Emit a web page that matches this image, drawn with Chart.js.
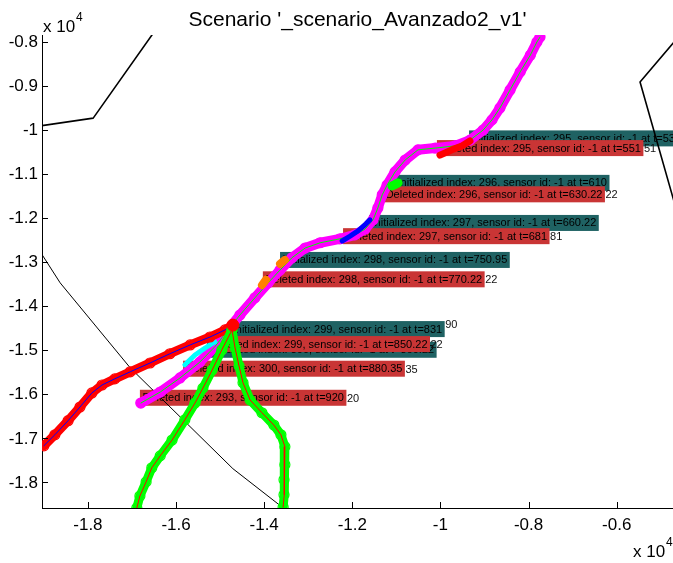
<!DOCTYPE html>
<html><head><meta charset="utf-8">
<script src="https://cdn.jsdelivr.net/npm/chart.js@4.4.0/dist/chart.umd.min.js"></script>
<style>html,body{margin:0;padding:0;background:#fff;}#wrap{width:673px;height:563px;}</style>
</head><body><div id="wrap"><canvas id="c" width="673" height="563"></canvas></div>
<script>
// ---- axis ranges / tick labels ----
const xRange = [-19042, -4722];
const yRange = [-18593, -7852];
const xTickValues = [-18000, -16000, -14000, -12000, -10000, -8000, -6000];
const yTickValues = [-18000, -17000, -16000, -15000, -14000, -13000, -12000, -11000, -10000, -9000, -8000];
const titleText = "Scenario '_scenario_Avanzado2_v1'";

// ---- magenta track (green centre line) ----
const magX = [-16800,-16360,-15910,-15460,-15120,-14820,-14550,-14210,-13910,-13640,-13370,-13070,-12730,-12280,-11940,-11710,-11530,-11420,-11320,-11210,-11030,-10800,-10510,-10120,-9670,-9330,-9030,-8830,-8650,-8420,-8190,-7960,-7810,-7740];
const magY = [-16210,-15960,-15640,-15280,-14930,-14550,-14210,-13820,-13480,-13190,-12910,-12690,-12570,-12480,-12390,-12260,-12050,-11780,-11480,-11260,-10960,-10690,-10460,-10420,-10370,-10240,-10010,-9780,-9510,-9100,-8690,-8310,-8010,-7900];
// ---- red track (blue centre line) ----
const redX = [-19000,-18750,-18450,-18180,-17910,-17680,-17390,-17040,-16590,-16140,-15680,-15230,-14890,-14710];
const redY = [-17180,-16930,-16610,-16300,-15980,-15800,-15660,-15500,-15300,-15090,-14890,-14710,-14550,-14440];
// ---- green tracks (red centre lines) ----
const gLX = [-14730,-14960,-15180,-15390,-15570,-15800,-16090,-16360,-16550,-16680,-16820,-16890];
const gLY = [-14550,-15000,-15460,-15870,-16210,-16590,-17050,-17410,-17680,-18000,-18320,-18590];
const gRX = [-14730,-14660,-14570,-14480,-14320,-14050,-13780,-13620,-13530,-13530,-13550,-13550,-13570];
const gRY = [-14550,-14960,-15370,-15750,-16140,-16430,-16710,-16930,-17200,-17610,-17950,-18290,-18570];
// ---- black map lines ----
const bl1X = [-19310,-17880,-16390]; const bl1Y = [-9950,-9740,-7630];
const bl2X = [-4330,-5470,-4560];    const bl2Y = [-7580,-8920,-12120];
const bl3X = [-19310,-18630,-17040,-14710,-13570,-13190]; const bl3Y = [-12420,-13480,-15410,-17700,-18590,-18880];
// ---- short track fragments ----
const blueX = [-12230,-12050,-11870,-11690,-11600]; const blueY = [-12530,-12420,-12300,-12140,-12050];
const gBlobX = [-11100,-10960]; const gBlobY = [-11280,-11210];
const redBitX = [-10010,-9740,-9510,-9330]; const redBitY = [-10580,-10460,-10370,-10260];
const or1X = [-13640,-13530]; const or1Y = [-13050,-12960];
const or2X = [-14050,-13960]; const or2Y = [-13530,-13410];
const cyanX = [-15800,-15570,-15340,-15120]; const cyanY = [-15340,-15120,-14960,-14820];
const dotX = [-14710]; const dotY = [-14440];
// ---- event labels ----
const labelText = [
 'Initialized index: 295, sensor id: -1 at t=531',
 'Initialized index: 296, sensor id: -1 at t=610',
 'Initialized index: 297, sensor id: -1 at t=660.22',
 'Initialized index: 298, sensor id: -1 at t=750.95',
 'Initialized index: 299, sensor id: -1 at t=831',
 'Initialized index: 300, sensor id: -1 at t=860.22',
 'Deleted index: 295, sensor id: -1 at t=551',
 'Deleted index: 296, sensor id: -1 at t=630.22',
 'Deleted index: 297, sensor id: -1 at t=681',
 'Deleted index: 298, sensor id: -1 at t=770.22',
 'Deleted index: 299, sensor id: -1 at t=850.22',
 'Deleted index: 300, sensor id: -1 at t=880.35',
 'Deleted index: 293, sensor id: -1 at t=920'
];
const labelKind = ['init','init','init','init','init','init','del','del','del','del','del','del','del'];
const labelTail = ['','','','','90','','51','22','81','22','22','35','20'];
const labelX = [-9350,-11030,-11620,-13640,-14770,-15300,-10080,-11300,-12210,-14030,-15270,-15840,-16820];
const labelY = [-10200,-11210,-12120,-12960,-14530,-15000,-10420,-11470,-12420,-13400,-14870,-15430,-16090];

const pts = (xs, ys) => xs.map((v, i) => ({x: v, y: ys[i]}));
const FONT = '"Liberation Sans", Arial, Helvetica, sans-serif';

function line(xs, ys, color, width, extra) {
  return Object.assign({data: pts(xs, ys), showLine: true, borderColor: color, backgroundColor: color,
    borderWidth: width, pointRadius: 0, tension: 0, borderCapStyle: 'round', borderJoinStyle: 'round'}, extra || {});
}
function band(xs, ys, color, w) {
  return line(xs, ys, color, w, {pointRadius: 5, pointBorderWidth: 1.2, pointBorderColor: color,
    pointBackgroundColor: 'rgba(0,0,0,0)'});
}

const datasets = [
  line(dotX, dotY, '#ff0000', 1, {pointRadius: 6, pointBackgroundColor: '#ff0000', pointBorderColor: '#ff0000'}),
  line(gLX, gLY, '#ff0000', 1),
  line(gRX, gRY, '#ff0000', 1),
  band(gLX, gLY, '#00ff00', 9),
  band(gRX, gRY, '#00ff00', 9),
  line(redX, redY, '#0000ff', 1),
  band(redX, redY, '#ff0000', 9),
  line(gBlobX, gBlobY, '#00ff00', 9),
  line(blueX, blueY, '#0000ff', 5),
  line(redBitX, redBitY, '#ff0000', 7),
  line(or1X, or1Y, '#ff8000', 8),
  line(or2X, or2Y, '#ff8000', 8),
  line(cyanX, cyanY, '#00ffff', 5),
  line(magX, magY, '#00ff00', 1),
  band(magX, magY, '#ff00ff', 10),
  line(bl1X, bl1Y, '#000000', 1.6),
  line(bl2X, bl2Y, '#000000', 1.6),
  line(bl3X, bl3Y, '#000000', 1)
];

const fmt = v => String(parseFloat((v / 1e4).toFixed(2)));

const deco = {
  id: 'deco',
  beforeDatasetsDraw(chart) {
    const {ctx, scales: {x, y}} = chart;
    ctx.save();
    ctx.font = '11px ' + FONT;
    ctx.textBaseline = 'middle';
    for (let i = 0; i < labelText.length; i++) {
      const px = x.getPixelForValue(labelX[i]), py = y.getPixelForValue(labelY[i]);
      const w = ctx.measureText(labelText[i]).width + 5, h = 16;
      ctx.fillStyle = labelKind[i] === 'init' ? '#1f6263' : '#c93535';
      ctx.fillRect(px, py - h / 2, w, h);
      ctx.fillStyle = '#000';
      ctx.fillText(labelText[i], px + 2.5, py + 0.5);
      if (labelTail[i]) {
        ctx.fillStyle = '#111';
        ctx.fillText(labelTail[i], px + w + 0.5, py + (labelKind[i] === 'init' ? -4 : 1));
      }
    }
    ctx.restore();
  },
  afterDraw(chart) {
    const {ctx, chartArea: ca, scales: {x, y}} = chart;
    ctx.save();
    ctx.strokeStyle = '#000'; ctx.lineWidth = 1;
    ctx.beginPath();
    x.ticks.forEach(t => { const p = Math.round(x.getPixelForValue(t.value)) + 0.5; ctx.moveTo(p, ca.bottom); ctx.lineTo(p, ca.bottom - 6); });
    y.ticks.forEach(t => { const p = Math.round(y.getPixelForValue(t.value)) + 0.5; ctx.moveTo(ca.left, p); ctx.lineTo(ca.left + 6, p); });
    ctx.stroke();
    ctx.fillStyle = '#000';
    ctx.font = '17px ' + FONT;
    ctx.textAlign = 'center'; ctx.textBaseline = 'top';
    x.ticks.forEach(t => ctx.fillText(fmt(t.value), x.getPixelForValue(t.value), ca.bottom + 9));
    ctx.textAlign = 'right'; ctx.textBaseline = 'middle';
    y.ticks.forEach(t => ctx.fillText(fmt(t.value), ca.left - 4, y.getPixelForValue(t.value) + 1));
    ctx.textBaseline = 'alphabetic';
    ctx.textAlign = 'center';
    ctx.font = '21px ' + FONT;
    ctx.fillText(titleText, (ca.left + ca.right) / 2, 26);
    ctx.textAlign = 'left';
    ctx.font = '17px ' + FONT;
    ctx.fillText('x 10', 43, 32);
    ctx.fillText('x 10', 633, 557);
    ctx.font = '12px ' + FONT;
    ctx.fillText('4', 76, 21);
    ctx.fillText('4', 666, 546);
    ctx.restore();
  }
};

new Chart(document.getElementById('c'), {
  type: 'scatter',
  data: {datasets},
  options: {
    responsive: false, animation: false, devicePixelRatio: 1,
    layout: {autoPadding: false, padding: {top: 35, left: 0, right: 0, bottom: 0}},
    plugins: {legend: {display: false}, tooltip: {enabled: false}, title: {display: false}},
    scales: {
      x: {type: 'linear', min: xRange[0], max: xRange[1],
          afterFit: s => { s.height = 55; },
          afterBuildTicks: s => { s.ticks = xTickValues.map(v => ({value: v})); },
          grid: {display: false, drawTicks: false},
          border: {display: true, color: '#000', width: 1},
          ticks: {display: false}},
      y: {type: 'linear', min: yRange[0], max: yRange[1],
          afterFit: s => { s.width = 42; },
          afterBuildTicks: s => { s.ticks = yTickValues.map(v => ({value: v})); },
          grid: {display: false, drawTicks: false},
          border: {display: true, color: '#000', width: 1},
          ticks: {display: false}}
    }
  },
  plugins: [deco]
});
</script></body></html>
